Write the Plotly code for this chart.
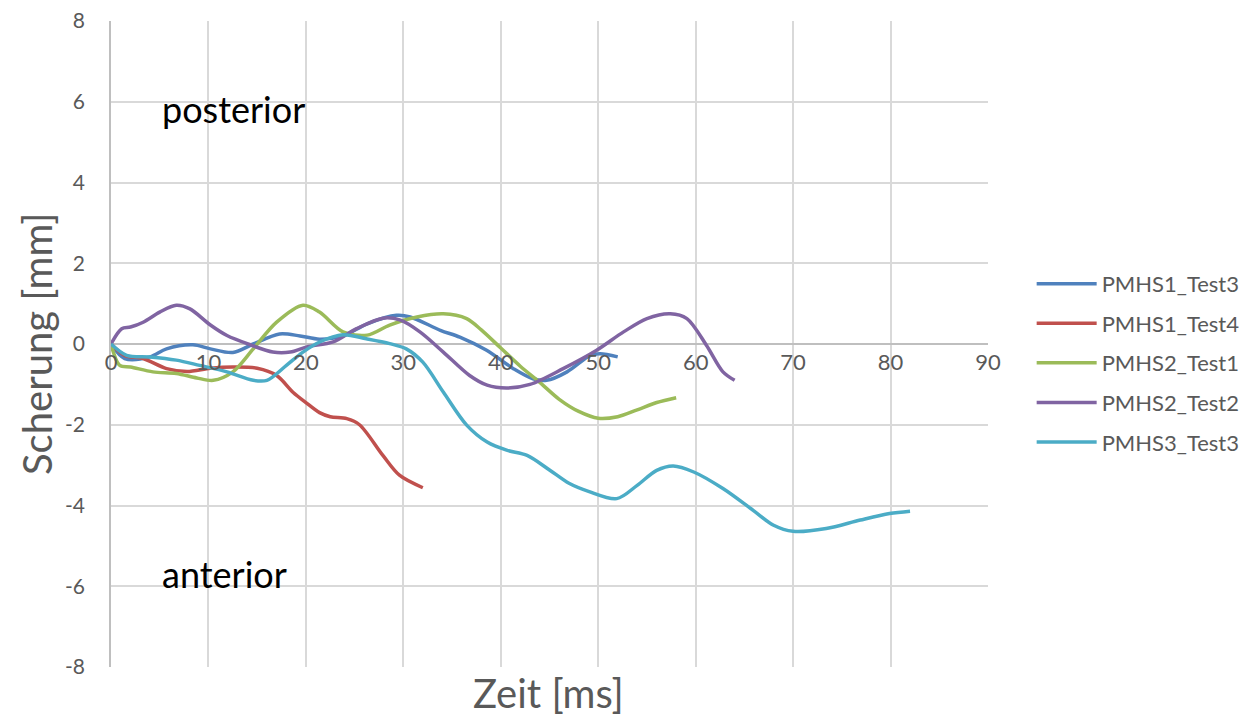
import plotly.graph_objects as go

names = ["PMHS1_Test3", "PMHS1_Test4", "PMHS2_Test1", "PMHS2_Test2", "PMHS3_Test3"]
colors = ["#4F81BD", "#C0504D", "#9BBB59", "#8064A2", "#4BACC6"]

x_p1t3 = [0, 1.4, 4, 5.7, 8.4, 10.2, 12.5, 14.6, 17.3, 19.4, 21.4, 23.8, 26.3, 29.3, 30.7, 33.8, 35.8, 38.5, 41.3, 43.3, 44.7, 46.8, 49.2, 50.2, 52]
y_p1t3 = [0, -0.36, -0.32, -0.12, -0.02, -0.12, -0.21, 0.0, 0.25, 0.2, 0.12, 0.2, 0.5, 0.71, 0.67, 0.34, 0.17, -0.15, -0.61, -0.86, -0.9, -0.69, -0.28, -0.24, -0.32]

x_p1t4 = [0, 1.4, 3.3, 5.7, 7.8, 10.2, 12.5, 15, 17, 18.7, 20, 21.4, 22.5, 24.2, 25.5, 27.9, 29.6, 32]
y_p1t4 = [0, -0.28, -0.36, -0.61, -0.68, -0.6, -0.57, -0.6, -0.78, -1.2, -1.45, -1.7, -1.8, -1.85, -2.0, -2.76, -3.25, -3.56]

x_p2t1 = [0, 0.9, 2, 4.3, 6.7, 8.8, 10.5, 12.5, 14.6, 17, 19.7, 21.4, 23.8, 26.3, 28.6, 31.4, 34.1, 36.5, 38, 40, 42, 44, 46, 48, 50, 52, 54, 56, 58]
y_p2t1 = [0, -0.53, -0.57, -0.69, -0.73, -0.84, -0.9, -0.69, -0.12, 0.54, 0.96, 0.79, 0.3, 0.22, 0.47, 0.67, 0.75, 0.63, 0.35, -0.1, -0.55, -0.95, -1.37, -1.67, -1.84, -1.8, -1.63, -1.45, -1.33]

x_p2t2 = [0, 1.1, 2, 3.3, 5, 6.7, 8.1, 10.2, 11.9, 14.3, 16.6, 18.4, 20.1, 22.8, 25.2, 27.9, 29.7, 31.7, 34.1, 36.8, 38.6, 40.6, 43, 46.4, 49.8, 52.6, 55, 57.4, 59.1, 61.1, 62.8, 64]
y_p2t2 = [0, 0.38, 0.42, 0.54, 0.79, 0.96, 0.87, 0.47, 0.21, -0.02, -0.2, -0.2, -0.07, 0.05, 0.38, 0.64, 0.59, 0.3, -0.2, -0.78, -1.02, -1.09, -1.0, -0.61, -0.16, 0.3, 0.63, 0.75, 0.63, -0.03, -0.69, -0.9]

x_p3t3 = [0, 1.6, 4, 6.7, 9.1, 11.9, 14.6, 16, 18, 19.7, 21.4, 23.8, 26.2, 28.6, 30.3, 32, 34.1, 36.5, 38.6, 40.6, 42.7, 45, 47, 49, 51.9, 54, 56, 57.7, 59.8, 62.8, 65.9, 68, 70, 73.4, 76.9, 79.9, 82]
y_p3t3 = [0, -0.28, -0.32, -0.4, -0.53, -0.69, -0.9, -0.9, -0.53, -0.2, 0.05, 0.23, 0.13, 0.01, -0.12, -0.45, -1.19, -2.01, -2.43, -2.63, -2.76, -3.12, -3.45, -3.65, -3.83, -3.5, -3.13, -3.02, -3.17, -3.58, -4.12, -4.49, -4.64, -4.57, -4.36, -4.2, -4.14]

xs = [x_p1t3, x_p1t4, x_p2t1, x_p2t2, x_p3t3]
ys = [y_p1t3, y_p1t4, y_p2t1, y_p2t2, y_p3t3]

x_ticks = [0, 10, 20, 30, 40, 50, 60, 70, 80, 90]
y_ticks = [-8, -6, -4, -2, 0, 2, 4, 6, 8]
y_ticktext = ["-8", "-6", "-4", "-2", "0", "2", "4", "6", "8"]

FONT = "Lato"
GRAY = "#595959"

fig = go.Figure()
for i, (n, c) in enumerate(zip(names, colors)):
    fig.add_trace(go.Scatter(x=xs[i], y=ys[i], mode="lines", name=n,
                             line=dict(color=c, width=3.5, shape="spline", smoothing=0.9),
                             legendgroup=n))

fig.update_layout(
    width=1239, height=714,
    margin=dict(l=103, r=259, t=13, b=55),
    plot_bgcolor="white", paper_bgcolor="white",
    font=dict(family=FONT, color=GRAY, size=22),
    showlegend=True,
    legend=dict(xref="container", yref="container", x=0.8262, y=0.503,
                xanchor="left", yanchor="middle",
                font=dict(size=22, color=GRAY, family=FONT),
                tracegroupgap=8, itemwidth=60),
    xaxis=dict(range=[0, 90], tickvals=x_ticks, showgrid=True, gridcolor="#D9D9D9", gridwidth=1.5,
               zeroline=False, showline=False, anchor="free", position=0.5, automargin=False,
               tickfont=dict(size=22, color=GRAY, family=FONT), ticks="", ticklabelstandoff=3),
    yaxis=dict(range=[-8, 8], tickvals=y_ticks, ticktext=y_ticktext, showgrid=True,
               gridcolor="#D9D9D9", gridwidth=1.5, automargin=False, ticklabeloverflow="allow",
               zeroline=True, zerolinecolor="#BFBFBF", zerolinewidth=1.5,
               showline=True, linecolor="#BFBFBF", linewidth=1.5,
               tickfont=dict(size=21, color=GRAY, family=FONT), ticks="", ticklabelstandoff=20),
)

fig.add_annotation(text="Scherung [mm]", x=-0.0844, y=0.5, xref="paper", yref="paper",
                   textangle=-90, showarrow=False, font=dict(size=40, color=GRAY, family=FONT),
                   xanchor="center", yanchor="middle")
fig.add_annotation(text="Zeit [ms]", x=0.4994, y=-0.040, xref="paper", yref="paper",
                   showarrow=False, font=dict(size=40, color=GRAY, family=FONT),
                   xanchor="center", yanchor="middle")
fig.add_annotation(text="posterior", x=5.0, y=5.82, xref="x", yref="y", showarrow=False,
                   font=dict(size=36, color="black", family=FONT), xanchor="left", yanchor="middle")
fig.add_annotation(text="anterior", x=5.0, y=-5.7, xref="x", yref="y", showarrow=False,
                   font=dict(size=36, color="black", family=FONT), xanchor="left", yanchor="middle")

fig.write_html("out.html")
